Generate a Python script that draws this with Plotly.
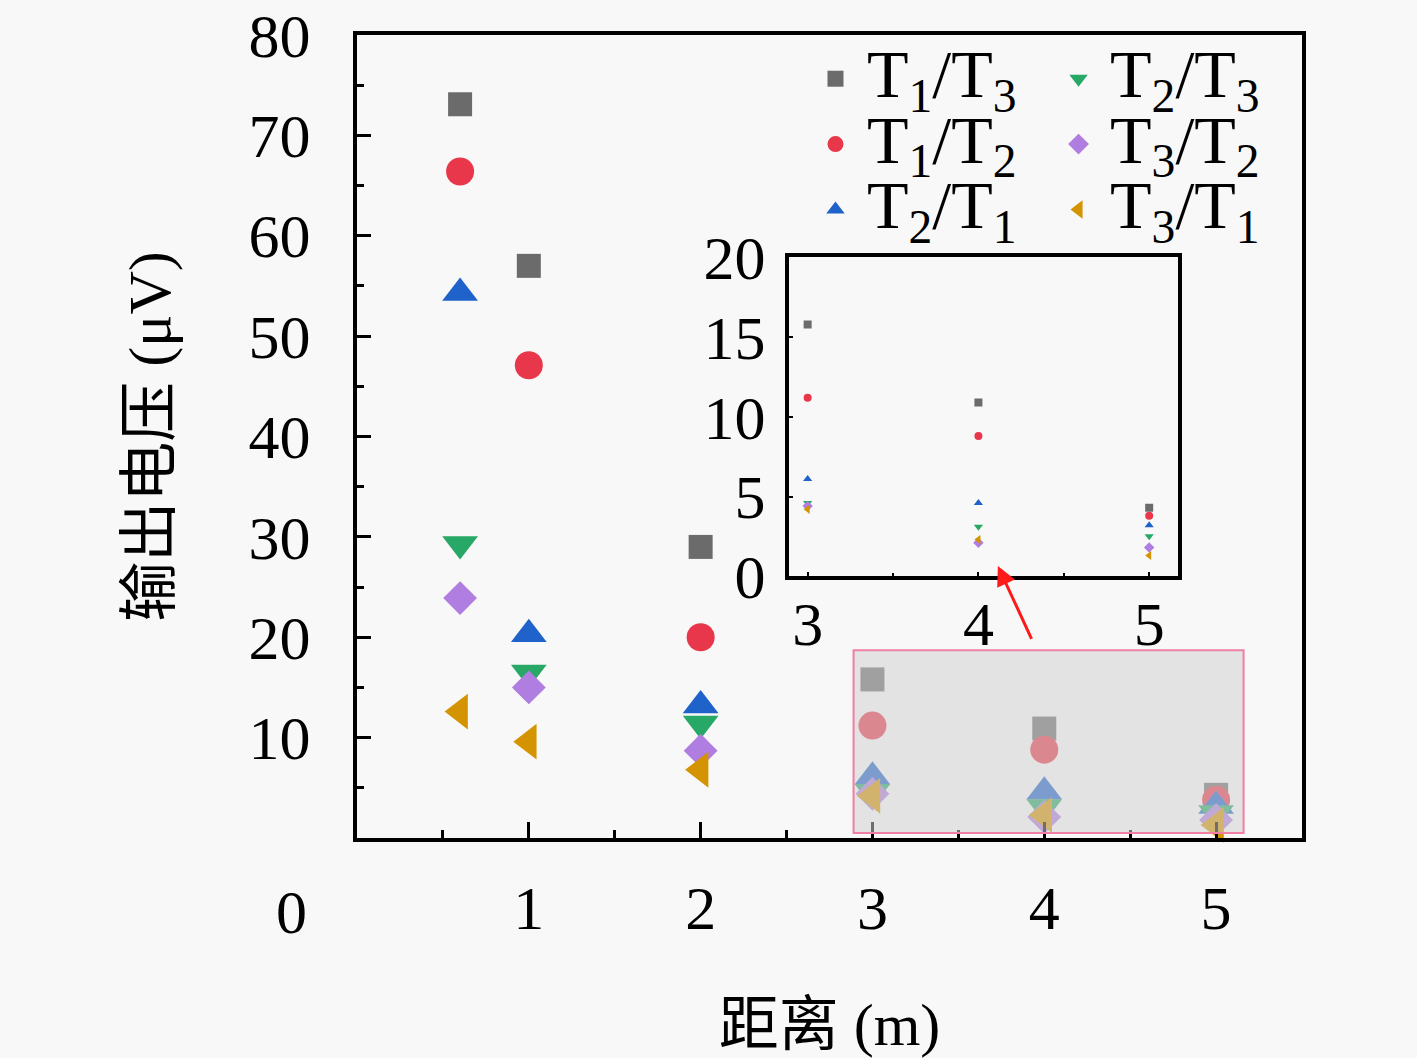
import plotly.graph_objects as go

# ---- data ----
distance = [0.6, 1, 2, 3, 4, 5]
series_names = ["T1/T3", "T1/T2", "T2/T1", "T2/T3", "T3/T2", "T3/T1"]
t1_t3 = [73.1, 57.0, 29.0, 15.8, 10.9, 4.3]
t1_t2 = [66.4, 47.1, 20.0, 11.2, 8.8, 3.8]
t2_t1 = [54.3, 20.3, 13.2, 6.1, 4.6, 3.2]
t2_t3 = [29.3, 16.5, 11.4, 4.6, 3.1, 2.5]
t3_t2 = [23.9, 15.0, 8.7, 4.4, 2.1, 1.8]
t3_t1 = [12.6, 9.6, 6.8, 4.2, 2.3, 1.3]

x_ticks = [1, 2, 3, 4, 5]
y_ticks = [10, 20, 30, 40, 50, 60, 70, 80]
inset_x_ticks = [3, 4, 5]
inset_y_ticks = [0, 5, 10, 15, 20]

FONT = "Liberation Serif, Noto Sans CJK SC, serif"
BG = "#f8f8f8"

styles = {
    "T1/T3": dict(vals=t1_t3, sym="square", color="#6b6b6b", size=24, legend="legend",
                  label="T<sub>1</sub>/T<sub>3</sub>"),
    "T1/T2": dict(vals=t1_t2, sym="circle", color="#e8364a", size=28, legend="legend",
                  label="T<sub>1</sub>/T<sub>2</sub>"),
    "T2/T1": dict(vals=t2_t1, sym="triangle-up", color="#1f62c9", size=31, legend="legend",
                  label="T<sub>2</sub>/T<sub>1</sub>"),
    "T2/T3": dict(vals=t2_t3, sym="triangle-down", color="#27a866", size=31, legend="legend2",
                  label="T<sub>2</sub>/T<sub>3</sub>"),
    "T3/T2": dict(vals=t3_t2, sym="diamond", color="#b07de0", size=26, legend="legend2",
                  label="T<sub>3</sub>/T<sub>2</sub>"),
    "T3/T1": dict(vals=t3_t1, sym="triangle-left", color="#d49300", size=31, legend="legend2",
                  label="T<sub>3</sub>/T<sub>1</sub>"),
}

fig = go.Figure()
for name in series_names:
    s = styles[name]
    fig.add_trace(go.Scatter(
        x=distance, y=s["vals"], mode="markers", cliponaxis=False,
        name='<span style="font-size:68px">' + s["label"] + "</span>",
        legend=s["legend"],
        marker=dict(symbol=s["sym"], color=s["color"], size=s["size"], line=dict(width=0)),
        xaxis="x", yaxis="y",
    ))
# inset
for name in series_names:
    s = styles[name]
    fig.add_trace(go.Scatter(
        x=distance[3:], y=s["vals"][3:], mode="markers", showlegend=False,
        marker=dict(symbol=s["sym"], color=s["color"], size=8, line=dict(width=0)),
        xaxis="x2", yaxis="y2",
    ))

axis_common = dict(showline=True, linecolor="black", mirror=True, showgrid=False,
                   zeroline=False, ticks="inside", tickcolor="black", automargin=False,
                   tickfont=dict(family=FONT, size=62, color="black"))

legend_common = dict(orientation="v", yanchor="top", xanchor="left", y=0.9925,
                     bgcolor="rgba(0,0,0,0)", itemclick=False, itemdoubleclick=False,
                     itemwidth=53,
                     font=dict(family=FONT, size=48, color="black"))

fig.update_layout(
    width=1417, height=1058,
    margin=dict(l=357, r=115, t=35, b=220),
    paper_bgcolor=BG, plot_bgcolor=BG,
    font=dict(family=FONT, color="black"),
    xaxis=dict(**axis_common, domain=[0, 1], range=[0, 5.5], tickvals=x_ticks,
               ticklen=16, tickwidth=3, linewidth=4, ticklabelstandoff=13,
               minor=dict(tickvals=[0.5, 1.5, 2.5, 3.5, 4.5], ticklen=8, tickwidth=3,
                          ticks="inside", tickcolor="black"),
               title=dict(text="距离 (m)", font=dict(family=FONT, size=60), standoff=72)),
    yaxis=dict(**axis_common, domain=[0, 1], range=[0, 80], tickvals=y_ticks,
               ticklen=14, tickwidth=3, linewidth=4, ticklabelstandoff=30,
               minor=dict(tickvals=[5, 15, 25, 35, 45, 55, 65, 75], ticklen=7, tickwidth=3,
                          ticks="inside", tickcolor="black"),
               title=dict(text="输出电压 (μV)", font=dict(family=FONT, size=60), standoff=60)),
    xaxis2=dict(**axis_common, domain=[0.457, 0.869], anchor="y2", range=[2.89, 5.17],
                tickvals=inset_x_ticks, ticklen=4, tickwidth=2, linewidth=4,
                ticklabelstandoff=-10,
                minor=dict(tickvals=[3.5, 4.5], ticklen=3, tickwidth=2, ticks="inside",
                           tickcolor="black")),
    yaxis2=dict(**axis_common, domain=[0.326, 0.723], anchor="x2", range=[0, 20],
                tickvals=inset_y_ticks, ticklen=4, tickwidth=2, linewidth=4,
                ticklabelstandoff=7),
    legend=dict(**legend_common, x=0.4730),
    legend2=dict(**legend_common, x=0.7302),
    showlegend=True,
)

# faded highlight region in main plot
fig.add_shape(type="rect", xref="x", yref="y", x0=2.89, x1=5.16, y0=0.5, y1=18.7,
              layer="above", fillcolor="rgba(207,207,207,0.53)",
              line=dict(color="#f07fa3", width=2))

# arrow pointing to inset
fig.add_annotation(xref="x", yref="y", axref="x", ayref="y", x=3.73, y=27.1,
                   ax=3.93, ay=19.7, text="", showarrow=True, arrowhead=2,
                   arrowsize=1.3, arrowwidth=3, arrowcolor="#ff1a1a")

# stray zero label of the y axis as drawn in the original
fig.add_annotation(xref="paper", yref="paper", x=-0.0688, y=-0.092, text="0",
                   showarrow=False, font=dict(family=FONT, size=62, color="black"),
                   xanchor="center", yanchor="middle")

fig.write_html("out.html", config={"displayModeBar": False},
               post_script="document.body.style.margin='0';")
